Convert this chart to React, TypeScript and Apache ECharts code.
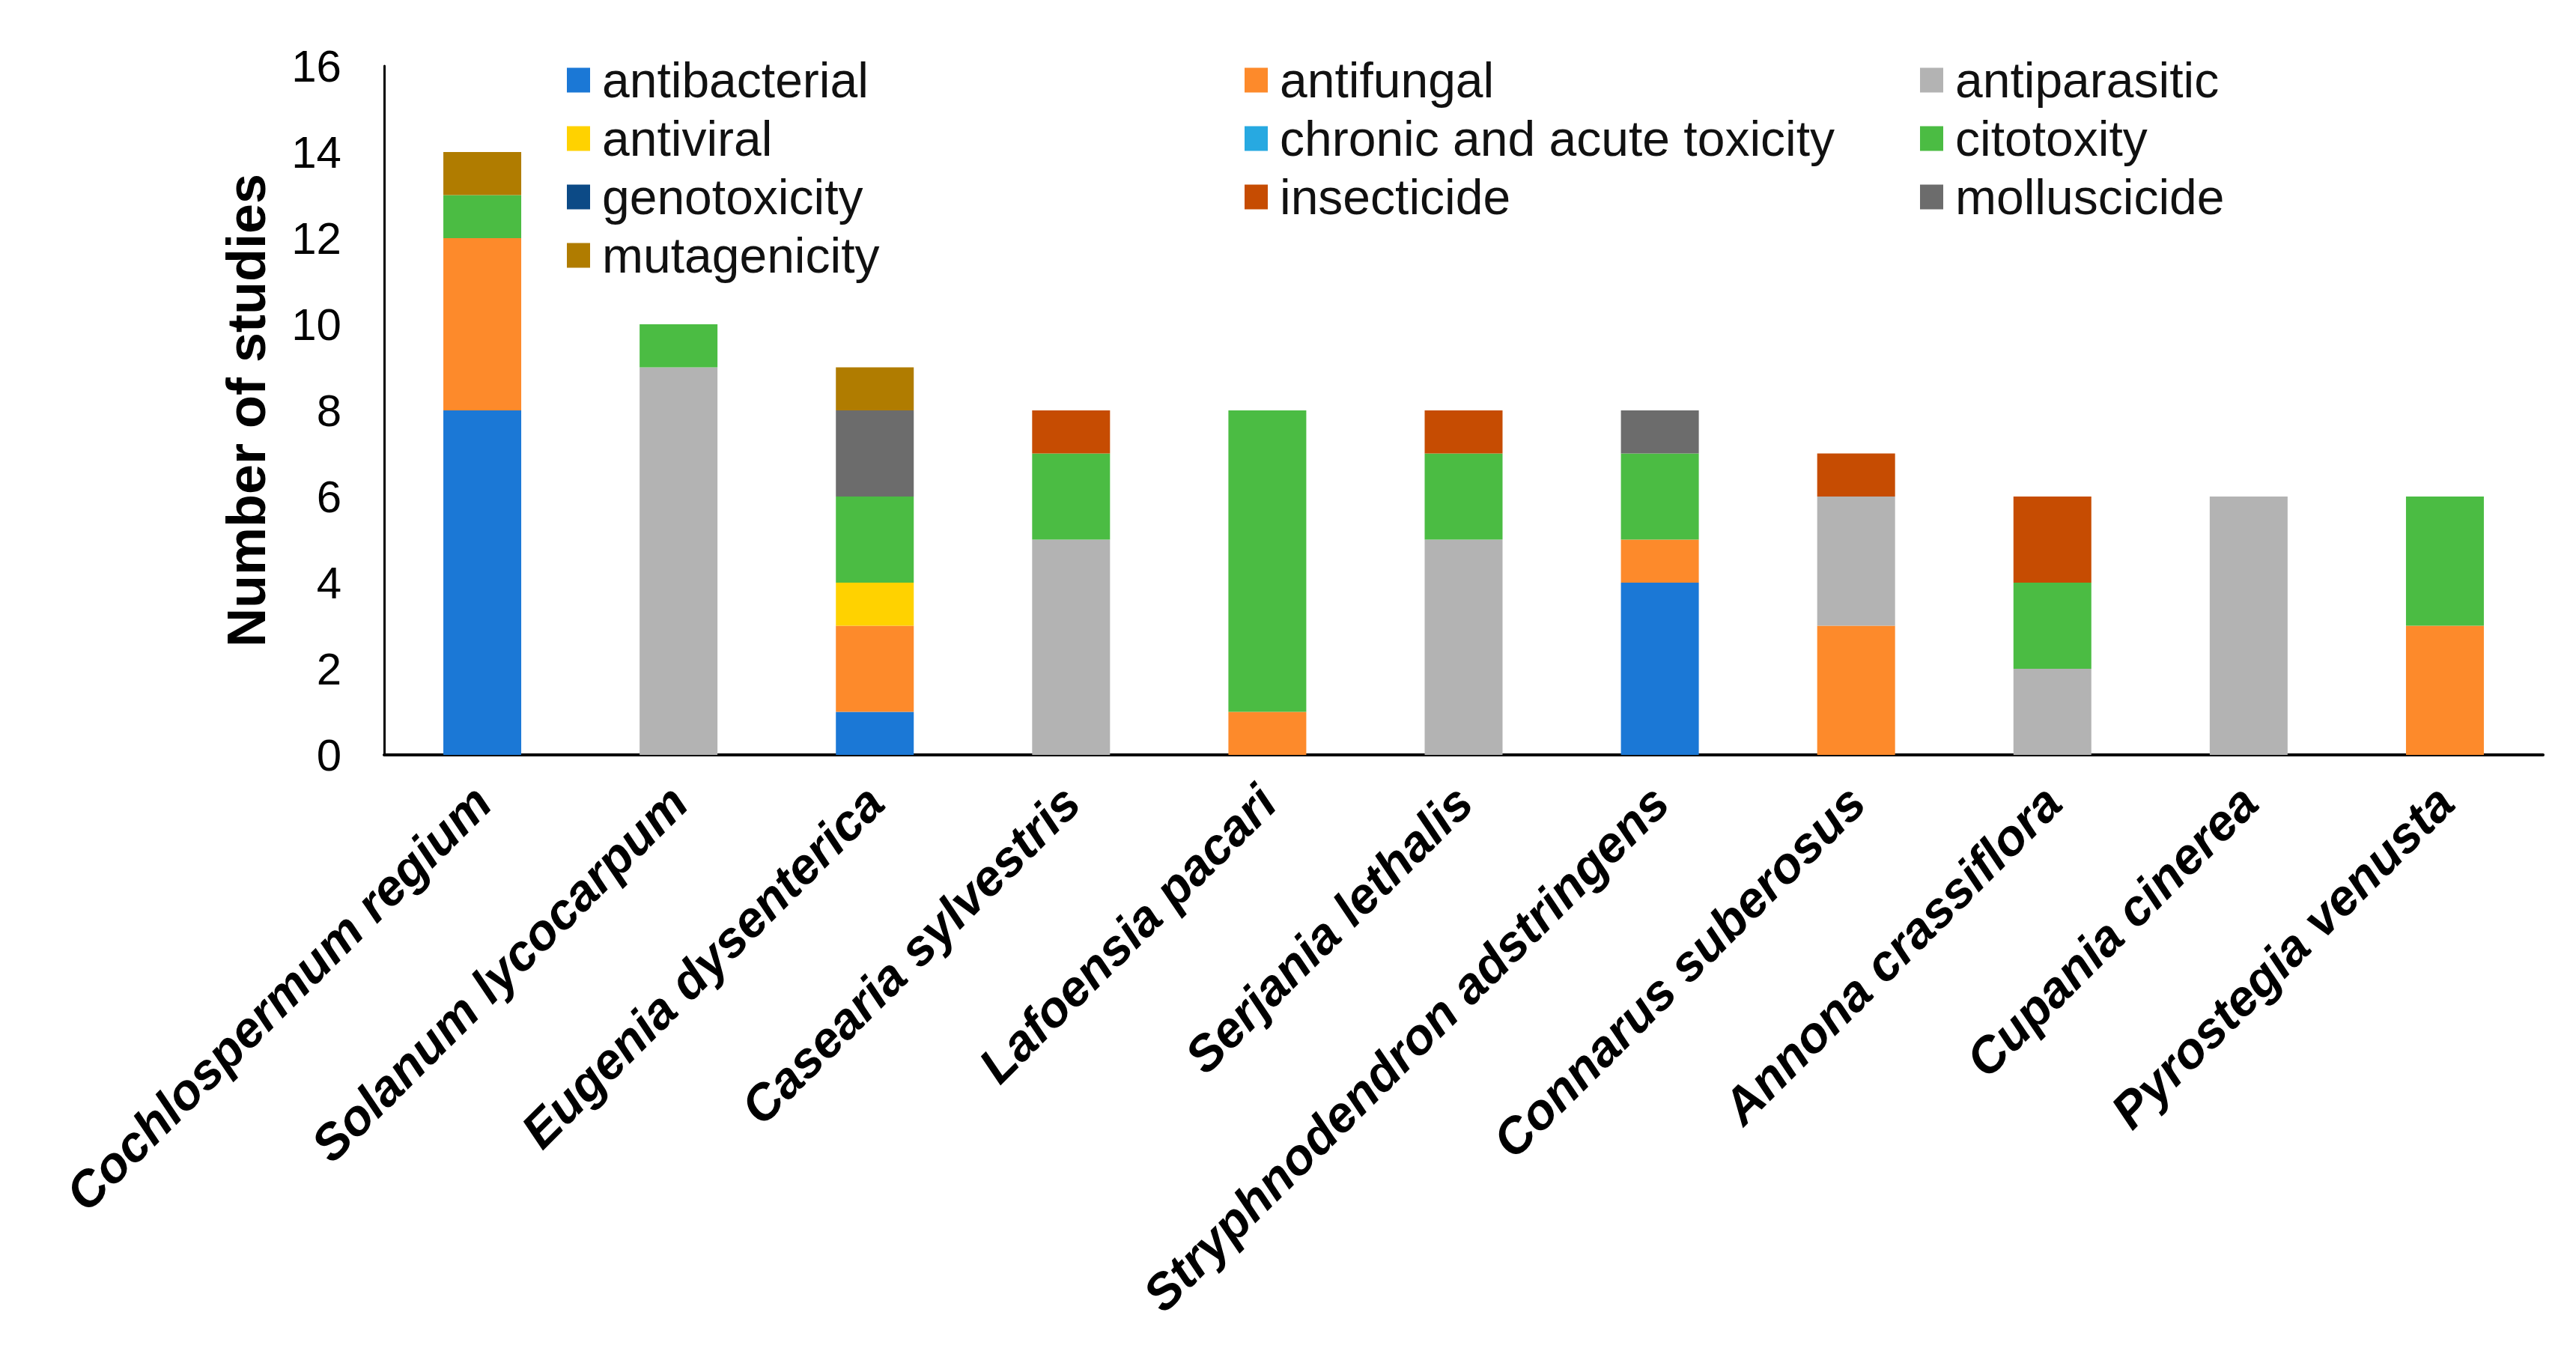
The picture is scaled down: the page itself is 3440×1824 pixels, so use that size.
import React, { useEffect, useRef } from "react";
import * as echarts from "echarts";

const categories = [
  "Cochlospermum regium",
  "Solanum lycocarpum",
  "Eugenia dysenterica",
  "Casearia sylvestris",
  "Lafoensia pacari",
  "Serjania lethalis",
  "Stryphnodendron adstringens",
  "Connarus suberosus",
  "Annona crassiflora",
  "Cupania cinerea",
  "Pyrostegia venusta",
];

const antibacterial = [8, 0, 1, 0, 0, 0, 4, 0, 0, 0, 0];
const antifungal = [4, 0, 2, 0, 1, 0, 1, 3, 0, 0, 3];
const antiparasitic = [0, 9, 0, 5, 0, 5, 0, 3, 2, 6, 0];
const antiviral = [0, 0, 1, 0, 0, 0, 0, 0, 0, 0, 0];
const chronicAcute = [0, 0, 0, 0, 0, 0, 0, 0, 0, 0, 0];
const citotoxity = [1, 1, 2, 2, 7, 2, 2, 0, 2, 0, 3];
const genotoxicity = [0, 0, 0, 0, 0, 0, 0, 0, 0, 0, 0];
const insecticide = [0, 0, 0, 1, 0, 1, 0, 1, 2, 0, 0];
const molluscicide = [0, 0, 2, 0, 0, 0, 1, 0, 0, 0, 0];
const mutagenicity = [1, 0, 1, 0, 0, 0, 0, 0, 0, 0, 0];

const seriesNames = [
  "antibacterial",
  "antifungal",
  "antiparasitic",
  "antiviral",
  "chronic and acute toxicity",
  "citotoxity",
  "genotoxicity",
  "insecticide",
  "molluscicide",
  "mutagenicity",
];
const seriesValues = [
  antibacterial,
  antifungal,
  antiparasitic,
  antiviral,
  chronicAcute,
  citotoxity,
  genotoxicity,
  insecticide,
  molluscicide,
  mutagenicity,
];
const seriesColors = [
  "#1B78D6",
  "#FD8A2B",
  "#B3B3B3",
  "#FFD200",
  "#27A9E1",
  "#4BBC43",
  "#0C4A86",
  "#C64C02",
  "#6C6C6C",
  "#B07C00",
];

const yTicks = { min: 0, max: 16, interval: 2 };

const legendColumns = [
  ["antibacterial", "antiviral", "genotoxicity", "mutagenicity"],
  ["antifungal", "chronic and acute toxicity", "insecticide"],
  ["antiparasitic", "citotoxity", "molluscicide"],
];
const legendLefts = [757, 1662, 2564];

const FONT = "'Liberation Sans', Arial, Helvetica, sans-serif";

export default function App() {
  const ref = useRef<HTMLDivElement>(null);

  useEffect(() => {
    document.body.style.margin = "0";
    if (!ref.current) return;
    const chart = echarts.init(ref.current, undefined, { renderer: "svg" });

    const option: any = {
      animation: false,
      backgroundColor: "#ffffff",
      textStyle: { fontFamily: FONT },
      grid: { left: 513, right: 44, top: 88, bottom: 816, containLabel: false },
      legend: legendColumns.map((col, i) => ({
        data: col,
        orient: "vertical",
        left: legendLefts[i],
        top: 74,
        itemWidth: 31,
        itemHeight: 33,
        itemGap: 12,
        icon: "rect",
        selectedMode: false,
        padding: 0,
        textStyle: {
          fontFamily: FONT,
          fontSize: 66,
          color: "#111111",
          lineHeight: 66,
          padding: [0, 0, 0, 11],
        },
      })),
      xAxis: {
        type: "category",
        data: categories,
        axisLine: { show: true, lineStyle: { color: "#000000", width: 4 } },
        axisTick: { show: false },
        axisLabel: {
          rotate: 45,
          interval: 0,
          margin: 52,
          fontFamily: FONT,
          fontSize: 67,
          fontWeight: "bold",
          fontStyle: "italic",
          color: "#000000",
        },
      },
      yAxis: {
        type: "value",
        min: yTicks.min,
        max: yTicks.max,
        interval: yTicks.interval,
        name: "Number of studies",
        nameLocation: "middle",
        nameGap: 148,
        nameTextStyle: {
          fontFamily: FONT,
          fontSize: 72,
          fontWeight: "bold",
          color: "#000000",
        },
        axisLine: { show: true, lineStyle: { color: "#000000", width: 3 } },
        axisTick: { show: false },
        splitLine: { show: false },
        axisLabel: {
          margin: 57,
          fontFamily: FONT,
          fontSize: 60,
          color: "#000000",
        },
      },
      series: seriesNames.map((name, i) => ({
        name,
        type: "bar",
        stack: "total",
        barWidth: 104,
        data: seriesValues[i],
        itemStyle: { color: seriesColors[i] },
        emphasis: { disabled: true },
      })),
    };

    chart.setOption(option);
    return () => chart.dispose();
  }, []);

  return <div ref={ref} style={{ width: 3440, height: 1824 }} />;
}
